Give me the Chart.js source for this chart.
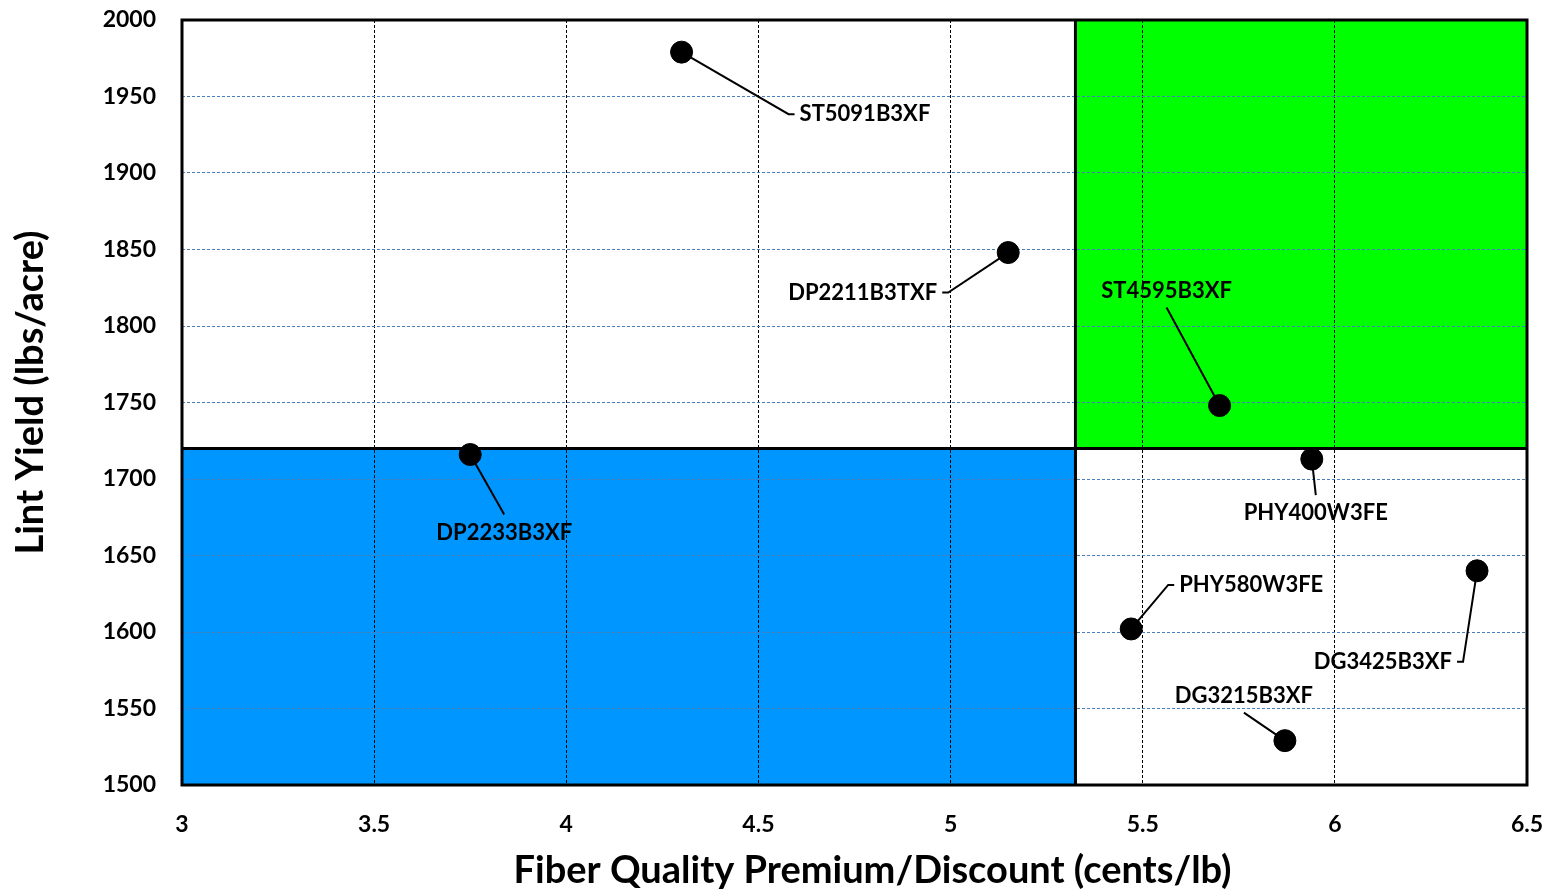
<!DOCTYPE html>
<html>
<head>
<meta charset="utf-8">
<script src="https://cdn.jsdelivr.net/npm/chart.js@4.4.1/dist/chart.umd.min.js"></script>
<style>
  html, body { margin: 0; padding: 0; background: #fff; }
  #wrap { width: 1549px; height: 894px; }
</style>
</head>
<body>
<div id="wrap"><canvas id="grafico" width="1549" height="894"></canvas></div>
<script>
// variety data
const varieties = ['ST5091B3XF', 'DP2211B3TXF', 'ST4595B3XF', 'DP2233B3XF', 'PHY400W3FE', 'PHY580W3FE', 'DG3425B3XF', 'DG3215B3XF'];
const premium = [4.30, 5.15, 5.70, 3.75, 5.94, 5.47, 6.37, 5.87];
const lintYield = [1979, 1848, 1748, 1716, 1713, 1602, 1640, 1529];

// quadrant split lines
const premiumSplit = 5.325;
const yieldSplit = 1720;

// axis ticks
const xTicks = [3, 3.5, 4, 4.5, 5, 5.5, 6, 6.5];
const yTicks = [1500, 1550, 1600, 1650, 1700, 1750, 1800, 1850, 1900, 1950, 2000];

const xTitle = 'Fiber Quality Premium/Discount (cents/lb)';
const yTitle = 'Lint Yield (lbs/acre)';

// label placement (pixels from the point)
const labelPos = [
    { dx: 118, dy: 62, align: 'left' },
    { dx: -71, dy: 40, align: 'right' },
    { dx: -53, dy: -115, align: 'center' },
    { dx: 34, dy: 78, align: 'center' },
    { dx: 4, dy: 54, align: 'center' },
    { dx: 48, dy: -44, align: 'left' },
    { dx: -25, dy: 91, align: 'right' },
    { dx: -41, dy: -45, align: 'center' }
];

const FONT = 'Lato, "Open Sans", sans-serif';

const quadrants = {
    id: 'quadrants',
    beforeDraw(chart) {
        const { ctx, chartArea: a, scales: { x, y } } = chart;
        const xs = x.getPixelForValue(premiumSplit);
        const ys = y.getPixelForValue(yieldSplit);
        ctx.save();
        ctx.fillStyle = '#0096ff';
        ctx.fillRect(a.left, ys, xs - a.left, a.bottom - ys);
        ctx.fillStyle = '#00ff00';
        ctx.fillRect(xs, a.top, a.right - xs, ys - a.top);
        ctx.restore();
    },
    beforeDatasetsDraw(chart) {
        const { ctx, chartArea: a, scales: { x, y } } = chart;
        const xs = x.getPixelForValue(premiumSplit);
        const ys = y.getPixelForValue(yieldSplit);
        ctx.save();
        ctx.strokeStyle = '#000';
        ctx.lineWidth = 3;
        ctx.beginPath();
        ctx.moveTo(xs, a.top); ctx.lineTo(xs, a.bottom);
        ctx.moveTo(a.left, ys); ctx.lineTo(a.right, ys);
        ctx.stroke();
        ctx.strokeRect(a.left, a.top, a.right - a.left, a.bottom - a.top);

        // leader lines
        ctx.lineWidth = 2;
        varieties.forEach((v, i) => {
            const px = x.getPixelForValue(premium[i]);
            const py = y.getPixelForValue(lintYield[i]);
            const p = labelPos[i];
            const tx = px + p.dx, ty = py + p.dy;
            ctx.beginPath();
            if (p.align === 'left') {
                ctx.moveTo(tx - 5, ty);
                ctx.lineTo(tx - 11, ty);
            } else if (p.align === 'right') {
                ctx.moveTo(tx + 5, ty);
                ctx.lineTo(tx + 11, ty);
            } else {
                ctx.moveTo(tx, p.dy > 0 ? ty - 18 : ty + 17);
            }
            ctx.lineTo(px, py);
            ctx.stroke();
        });
        ctx.restore();
    },
    afterDatasetsDraw(chart) {
        const { ctx, chartArea: a, scales: { x, y } } = chart;
        ctx.save();
        ctx.fillStyle = '#000';
        ctx.font = 'bold 22px ' + FONT;
        ctx.textBaseline = 'middle';
        varieties.forEach((v, i) => {
            const p = labelPos[i];
            ctx.textAlign = p.align;
            ctx.fillText(v, x.getPixelForValue(premium[i]) + p.dx, y.getPixelForValue(lintYield[i]) + p.dy);
        });

        // axis titles
        ctx.font = 'bold 38px ' + FONT;
        ctx.textAlign = 'center';
        ctx.fillText(xTitle, (a.left + a.right) / 2 + 18, a.bottom + 86);
        ctx.translate(31, (a.top + a.bottom) / 2 - 10);
        ctx.rotate(-Math.PI / 2);
        ctx.fillText(yTitle, 0, 0);
        ctx.restore();
    }
};

const ctx = document.getElementById('grafico');

new Chart(ctx, {
    type: 'scatter',
    data: {
        datasets: [{
            label: 'Variedades',
            data: varieties.map((v, i) => ({ x: premium[i], y: lintYield[i] })),
            backgroundColor: '#000',
            borderColor: '#000',
            pointRadius: 11,
            pointHoverRadius: 11
        }]
    },
    options: {
        responsive: false,
        animation: false,
        events: [],
        layout: {
            padding: { top: 20, right: 22, left: 0, bottom: 0 }
        },
        plugins: {
            legend: { display: false },
            tooltip: { enabled: false }
        },
        scales: {
            x: {
                type: 'linear',
                min: 3,
                max: 6.5,
                afterBuildTicks: s => { s.ticks = xTicks.map(v => ({ value: v })); },
                afterFit: s => { s.height = 109; s.paddingLeft = 0; s.paddingRight = 0; },
                grid: { color: '#000', lineWidth: 1, drawTicks: false },
                border: { display: false, dash: [3, 2] },
                ticks: {
                    padding: 26,
                    color: '#000',
                    font: { family: FONT, size: 23, weight: 'bold' },
                    callback: v => String(v)
                }
            },
            y: {
                type: 'linear',
                min: 1500,
                max: 2000,
                afterBuildTicks: s => { s.ticks = yTicks.map(v => ({ value: v })); },
                afterFit: s => { s.width = 182; s.paddingTop = 0; s.paddingBottom = 0; },
                grid: { color: '#4a7ebb', lineWidth: 1, drawTicks: false },
                border: { display: false, dash: [3, 2] },
                ticks: {
                    padding: 26,
                    color: '#000',
                    font: { family: FONT, size: 23, weight: 'bold' },
                    callback: v => String(v)
                }
            }
        }
    },
    plugins: [quadrants]
});
</script>
</body>
</html>
